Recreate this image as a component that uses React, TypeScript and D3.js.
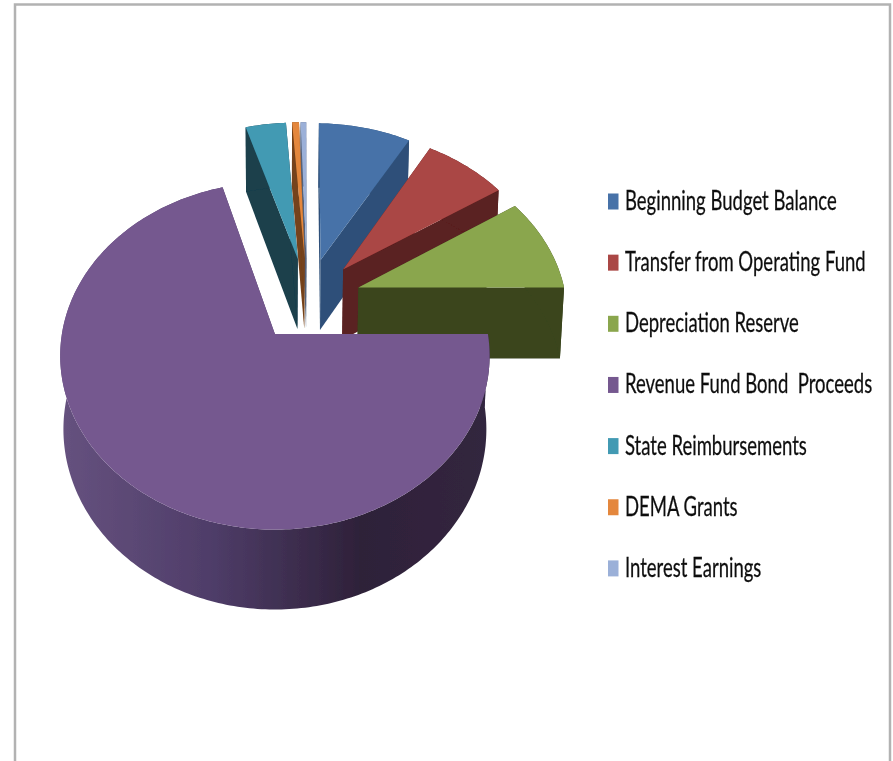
import React from "react";
import * as d3 from "d3";

const categories = ["Beginning Budget Balance", "Transfer from Operating Fund", "Depreciation Reserve", "Revenue Fund Bond  Proceeds", "State Reimbursements", "DEMA Grants", "Interest Earnings"];
const values = [8.19, 7.36, 9.17, 70.56, 3.61, 0.61, 0.5];
const topColors = ["#4672a8", "#aa4644", "#8aa64e", "#75588f", "#429ab3", "#e4873c", "#9bb0d8"];
const wallColors = ["#2f5079", "#5a2020", "#3a451f", "#4b3a63", "#1a3f4c", "#75421a", "#55627a"];
const paintOrder = [0, 1, 2, 6, 5, 4, 3];

const W = 893, H = 761;
const cx = 275, cy = 334, a = 213, b = 171, p = 0.126, h = 74, q = 0.015;
const explode = 0.26, ox = 0.156, oy = -0.208;
const firstAngle = (1 * Math.PI) / 180;

type Pt = [number, number];
// perspective projection of a point on the pie plane; z = 0 top face, z = 1 bottom face
const project = (X: number, Y: number, z: number): Pt => {
  const w = 1 - p * Y + q * z;
  return [cx + (a * X) / w, cy + (b * Y + h * z) / w];
};

const arcs = d3.pie<number>().sort(null).startAngle(firstAngle).endAngle(firstAngle + 2 * Math.PI)(values);
const line = d3.line<Pt>().curve(d3.curveLinear);

const slicePaths = (i: number) => {
  const s = arcs[i];
  const mid = (s.startAngle + s.endAngle) / 2;
  const ax = ox + explode * Math.sin(mid);
  const ay = oy - explode * Math.cos(mid);
  const n = Math.max(2, Math.ceil((s.endAngle - s.startAngle) * 60));
  const angles = d3.range(n + 1).map((k) => s.startAngle + ((s.endAngle - s.startAngle) * k) / n);
  const rim = (z: number) => angles.map((t) => project(ax + Math.sin(t), ay - Math.cos(t), z));
  const rimTop = rim(0);
  const rimBottom = rim(1);
  const apexTop = project(ax, ay, 0);
  const apexBottom = project(ax, ay, 1);
  return {
    top: line([apexTop, ...rimTop])! + "Z",
    outer: line([...rimTop, ...rimBottom.slice().reverse()])! + "Z",
    edgeA: line([apexTop, rimTop[0], rimBottom[0], apexBottom])! + "Z",
    edgeB: line([apexTop, rimTop[n], rimBottom[n], apexBottom])! + "Z",
  };
};

const legendX = 608, legendY0 = 201, legendStep = 61.15;

export default function App() {
  return (
    <svg width={W} height={H} viewBox={`0 0 ${W} ${H}`} style={{ position: "absolute", left: 0, top: 0 }}>
      <defs>
        <linearGradient id="purpleWall" gradientUnits="userSpaceOnUse" x1={59} x2={490} y1={0} y2={0}>
          <stop offset="0" stopColor="#66527f" />
          <stop offset="0.35" stopColor="#4f3d69" />
          <stop offset="0.7" stopColor="#2e2139" />
          <stop offset="1" stopColor="#33263f" />
        </linearGradient>
        <filter id="soft" x="-5%" y="-5%" width="110%" height="110%">
          <feGaussianBlur stdDeviation="0.6" />
        </filter>
      </defs>
      <rect width={W} height={H} fill="#fff" />
      <path d={`M15 ${H}V4.5H890V${H}`} fill="none" stroke="#b2b2b2" strokeWidth={2.5} />
      <g filter="url(#soft)">
        {paintOrder.map((i) => {
          const d = slicePaths(i);
          const wall = i === 3 ? "url(#purpleWall)" : wallColors[i];
          return (
            <g key={categories[i]}>
              <path d={d.edgeA} fill={wallColors[i]} />
              <path d={d.edgeB} fill={wallColors[i]} />
              <path d={d.outer} fill={wall} />
              <path d={d.top} fill={topColors[i]} />
            </g>
          );
        })}
      </g>
      <g filter="url(#soft)">
        {categories.map((c, i) => {
          const y = legendY0 + i * legendStep;
          return (
            <g key={c}>
              <rect x={legendX} y={y - 7.5} width={10.5} height={16} fill={topColors[i]} />
              <text
                transform={`translate(625 ${y + 9}) scale(0.805 1.14)`}
                fontFamily="Lato, 'Open Sans', sans-serif"
                fontSize={23}
                fill="#111"
                stroke="#111"
                strokeWidth={0.25}
                xmlSpace="preserve"
              >
                {c}
              </text>
            </g>
          );
        })}
      </g>
    </svg>
  );
}
